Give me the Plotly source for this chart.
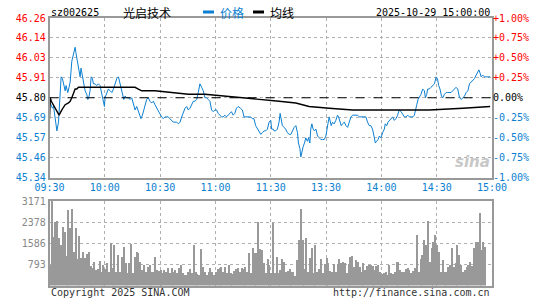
import plotly.graph_objects as go

# ---------------- data ----------------
PRE_CLOSE = 45.80
CODE = "sz002625"
NAME = "光启技术"
STAMP = "2025-10-29 15:00:00"

TIME_TICKS = ["09:30", "10:00", "10:30", "11:00", "11:30", "13:30", "14:00", "14:30", "15:00"]
PRICE_TICKS = ["45.34", "45.46", "45.57", "45.69", "45.80", "45.91", "46.03", "46.14", "46.26"]
PCT_TICKS = ["-1.00%", "-0.75%", "-0.50%", "-0.25%", "0.00%", "+0.25%", "+0.50%", "+0.75%", "+1.00%"]
VOL_TICKS = ["793", "1586", "2378", "3171"]

# trading minutes since 09:30 (lunch break removed)
PRICE_TIME = [
    0, 0.9, 1.6, 2.2, 3.1, 4.0, 4.9, 5.8, 6.3, 7.0, 7.6, 8.5, 9.0, 9.9, 10.6, 11.2, 12.1, 13.0, 13.9, 14.3,
    14.8, 15.3, 16.1, 16.6, 17.1, 17.9, 18.4, 19.3, 20.2, 20.8, 21.5, 22.0, 22.6, 23.3, 23.8, 24.7, 25.6, 26.5, 27.4, 28.3,
    29.2, 29.8, 30.1, 31.0, 31.9, 32.9, 33.8, 34.7, 35.6, 36.5, 37.4, 37.9, 38.8, 39.5, 40.3, 41.0, 41.9, 42.8, 43.7, 44.6,
    45.5, 46.4, 47.3, 48.2, 49.1, 49.6, 50.4, 51.1, 51.8, 52.7, 53.6, 54.5, 55.4, 56.3, 57.2, 58.1, 59.0, 59.9, 60.8, 61.7,
    62.6, 63.5, 64.4, 65.3, 66.2, 67.1, 68.1, 69.0, 69.9, 70.8, 71.7, 72.6, 73.5, 74.4, 75.3, 76.2, 77.1, 78.0, 78.9, 79.8,
    80.7, 81.6, 82.5, 83.4, 84.3, 85.2, 86.1, 87.0, 87.9, 88.8, 89.7, 90.6, 91.5, 92.4, 93.3, 94.2, 95.1, 96.0, 96.9, 97.8,
    98.7, 99.6, 100.5, 101.4, 102.3, 103.5, 104.6, 105.5, 106.4, 107.3, 108.2, 109.1, 110.0, 110.9, 111.8, 112.8, 113.7, 114.6, 115.5, 116.4,
    117.3, 118.2, 119.1, 120.0, 120.5, 121.3, 121.8, 122.7, 123.6, 124.5, 125.1, 125.8, 126.3, 127.2, 128.1, 129.0, 130.0, 130.9, 131.8, 132.7,
    133.6, 134.5, 135.0, 135.8, 136.3, 136.8, 137.6, 138.3, 139.0, 139.9, 140.5, 141.2, 141.7, 142.3, 143.0, 143.7, 144.5, 145.4, 146.3, 147.2,
    148.1, 149.0, 149.9, 150.4, 151.0, 151.7, 152.2, 152.8, 153.5, 154.4, 155.3, 156.2, 156.8, 157.5, 158.2, 158.9, 159.9, 160.8, 161.7, 162.6,
    163.5, 164.4, 165.3, 166.2, 167.1, 168.0, 168.9, 169.8, 170.7, 171.6, 172.5, 173.4, 174.3, 175.2, 176.2, 176.7, 177.4, 178.2, 178.9, 179.8,
    180.7, 181.6, 182.1, 182.9, 183.6, 184.3, 185.2, 186.1, 187.0, 187.9, 188.8, 189.7, 190.7, 191.6, 192.5, 193.4, 194.3, 195.2, 196.1, 197.0,
    197.9, 198.4, 199.2, 199.9, 200.6, 201.5, 202.4, 203.3, 203.9, 204.6, 205.1, 206.0, 206.9, 207.9, 208.8, 209.7, 210.4, 211.1, 211.8, 212.6,
    213.3, 214.2, 215.1, 216.0, 216.9, 217.8, 218.7, 219.6, 220.5, 221.4, 222.4, 223.3, 224.2, 225.1, 226.0, 226.9, 227.8, 228.7, 229.6, 230.5,
    231.4, 232.3, 232.9, 233.6, 234.1, 235.0, 235.9, 236.8, 238.3, 239.0,
]
PRICE = [
    45.78, 45.76, 45.74, 45.75, 45.69, 45.61, 45.66, 45.81, 45.92, 45.91, 45.88, 45.84, 45.87, 45.83, 45.86, 45.89, 46.01, 46.06, 46.09, 46.06,
    46.03, 46.00, 45.94, 45.92, 45.97, 45.92, 45.91, 45.84, 45.82, 45.79, 45.81, 45.84, 45.92, 45.91, 45.88, 45.88, 45.87, 45.88, 45.87, 45.83,
    45.79, 45.75, 45.80, 45.83, 45.85, 45.84, 45.83, 45.85, 45.88, 45.91, 45.92, 45.90, 45.86, 45.83, 45.79, 45.81, 45.80, 45.80, 45.79, 45.80,
    45.77, 45.73, 45.75, 45.72, 45.69, 45.68, 45.70, 45.73, 45.76, 45.79, 45.80, 45.78, 45.77, 45.78, 45.76, 45.74, 45.72, 45.70, 45.69, 45.68,
    45.69, 45.69, 45.69, 45.68, 45.67, 45.66, 45.66, 45.66, 45.65, 45.66, 45.69, 45.72, 45.74, 45.75, 45.73, 45.74, 45.76, 45.78, 45.78, 45.79,
    45.83, 45.88, 45.86, 45.84, 45.80, 45.80, 45.79, 45.78, 45.73, 45.72, 45.73, 45.73, 45.71, 45.70, 45.69, 45.69, 45.70, 45.69, 45.70, 45.71,
    45.72, 45.70, 45.71, 45.74, 45.75, 45.74, 45.73, 45.69, 45.69, 45.69, 45.69, 45.69, 45.68, 45.68, 45.64, 45.62, 45.60, 45.59, 45.60, 45.61,
    45.61, 45.62, 45.66, 45.67, 45.62, 45.62, 45.61, 45.61, 45.62, 45.66, 45.71, 45.66, 45.64, 45.63, 45.62, 45.60, 45.59, 45.59, 45.61, 45.63,
    45.64, 45.60, 45.54, 45.51, 45.46, 45.49, 45.52, 45.54, 45.57, 45.55, 45.57, 45.54, 45.62, 45.65, 45.62, 45.61, 45.62, 45.58, 45.57, 45.56,
    45.56, 45.56, 45.58, 45.62, 45.65, 45.69, 45.67, 45.64, 45.66, 45.65, 45.67, 45.70, 45.69, 45.66, 45.64, 45.65, 45.66, 45.64, 45.63, 45.66,
    45.69, 45.70, 45.70, 45.70, 45.70, 45.69, 45.69, 45.69, 45.69, 45.69, 45.66, 45.64, 45.64, 45.62, 45.57, 45.54, 45.55, 45.56, 45.58, 45.57,
    45.60, 45.62, 45.65, 45.64, 45.66, 45.67, 45.68, 45.69, 45.67, 45.68, 45.70, 45.73, 45.72, 45.70, 45.69, 45.69, 45.70, 45.69, 45.69, 45.69,
    45.70, 45.73, 45.76, 45.79, 45.80, 45.82, 45.85, 45.84, 45.80, 45.82, 45.85, 45.85, 45.86, 45.87, 45.88, 45.92, 45.91, 45.87, 45.85, 45.81,
    45.80, 45.82, 45.83, 45.83, 45.83, 45.83, 45.84, 45.85, 45.86, 45.85, 45.80, 45.79, 45.80, 45.81, 45.83, 45.84, 45.88, 45.89, 45.90, 45.91,
    45.93, 45.95, 45.96, 45.94, 45.92, 45.93, 45.92, 45.92, 45.92, 45.92,
]

AVG_TIME = [0, 0.4, 1.0, 3.0, 5.2, 6.7, 8.5, 10.3, 11.2, 12.1, 13.0, 13.9, 14.8, 15.7, 30.0, 46.4, 48.2, 50.0, 57.2, 66.2,
            75.3, 84.3, 95.1, 106.4, 115.5, 124.5, 133.6, 140.8, 151.7, 164.4, 178.9, 198.8, 206.0, 224.2, 238.3, 239.0]
AVG = [45.68, 45.80, 45.78, 45.74, 45.70, 45.73, 45.76, 45.77, 45.78, 45.80, 45.83, 45.85, 45.85, 45.86, 45.86, 45.86, 45.85, 45.84, 45.84, 45.83,
       45.82, 45.82, 45.81, 45.80, 45.79, 45.78, 45.77, 45.75, 45.74, 45.73, 45.73, 45.73, 45.73, 45.74, 45.75, 45.75]

VOLUME = [
    780, 3171, 1830, 2390, 2420, 1790, 1520, 2200, 2020, 1120,
    2830, 2170, 2870, 1270, 2140, 1000, 1870, 1040, 1270, 1040,
    1170, 1240, 740, 670, 890, 580, 620, 920, 520, 770,
    620, 830, 520, 1580, 670, 1520, 520, 1140, 520, 1080,
    1460, 830, 460, 830, 1540, 460, 1080, 1270, 1210, 890,
    580, 770, 520, 710, 770, 490, 520, 1080, 580, 540,
    580, 460, 580, 490, 640, 460, 670, 520, 580, 460,
    670, 770, 460, 390, 390, 490, 620, 460, 1520, 490,
    420, 390, 1370, 710, 520, 390, 490, 640, 520, 390,
    520, 620, 640, 710, 490, 710, 460, 770, 460, 440,
    540, 620, 640, 520, 640, 620, 710, 520, 1210, 460,
    1390, 1210, 1210, 2390, 1370, 1330, 830, 460, 990, 770,
    460, 2330, 460, 1080, 460, 580, 990, 890, 490, 540,
    620, 520, 520, 350, 960, 1710, 2870, 1710, 620, 1790,
    490, 1040, 1420, 460, 1520, 520, 620, 990, 460, 790,
    1020, 830, 540, 490, 790, 520, 790, 990, 830, 890,
    830, 460, 790, 1080, 1110, 710, 960, 890, 710, 520,
    830, 580, 740, 770, 770, 740, 580, 740, 770, 490,
    420, 460, 520, 390, 770, 460, 420, 490, 890, 890,
    580, 520, 520, 620, 670, 580, 460, 540, 670, 1890,
    490, 990, 1140, 1710, 1520, 2420, 890, 1390, 1640, 1890,
    1520, 1270, 520, 960, 520, 520, 710, 770, 1420, 710,
    830, 1520, 1140, 770, 490, 580, 710, 770, 870, 740,
    1390, 1640, 1620, 2710, 1330, 1620, 1460,
]

# ---------------- styles ----------------
RED = "#ff0000"
BLUE = "#0b7fd0"
BLACK = "#000000"
GRAY = "#999999"
GRID = "#b0b0b0"
MONO = "DejaVu Sans Mono"
W, H = 545, 300

def px_x(x):
    return x / W

def px_y(y):
    return 1 - y / H

def tick_color(i, mid):
    if i > mid:
        return RED
    if i < mid:
        return BLUE
    return BLACK

mid = len(PRICE_TICKS) // 2
price_vals = [PRE_CLOSE * (1 + (i - mid) * 0.0025) for i in range(len(PRICE_TICKS))]
pct_vals = [(i - mid) * 0.25 for i in range(len(PCT_TICKS))]
price_text = [f'<span style="color:{tick_color(i, mid)}">{t}</span>' for i, t in enumerate(PRICE_TICKS)]
pct_text = [f'<span style="color:{tick_color(i, mid)}">{t}</span>' for i, t in enumerate(PCT_TICKS)]
time_vals = [i * 30 for i in range(len(TIME_TICKS))]
vol_max = max(VOLUME)
vol_vals = [vol_max * (i + 1) / 4 for i in range(4)]

XDOM = [px_x(49.5), px_x(492)]
MAIN_DOM = [px_y(177.5), px_y(18)]
VOL_DOM = [px_y(285.5), px_y(201)]

fig = go.Figure()
fig.add_trace(go.Scatter(x=PRICE_TIME, y=PRICE, mode="lines", line=dict(color=BLUE, width=1),
                         xaxis="x", yaxis="y", hoverinfo="skip"))
fig.add_trace(go.Scatter(x=AVG_TIME, y=AVG, mode="lines", line=dict(color=BLACK, width=1.4),
                         xaxis="x", yaxis="y", hoverinfo="skip"))
fig.add_trace(go.Scatter(x=[0, 240], y=[0, 0], mode="lines", line=dict(width=0), opacity=0,
                         xaxis="x", yaxis="y2", hoverinfo="skip"))
fig.add_trace(go.Bar(x=list(range(len(VOLUME))), y=VOLUME, width=0.6, marker=dict(color=GRAY, line=dict(width=0)),
                     xaxis="x2", yaxis="y3", hoverinfo="skip"))

axis_common = dict(showgrid=True, gridcolor=GRID, griddash="dot", gridwidth=1, zeroline=False,
                   showline=True, linecolor=GRAY, linewidth=1.5, mirror=True, ticks="", automargin=False)

fig.update_layout(
    width=W, height=H,
    margin=dict(l=0, r=0, t=0, b=0, autoexpand=False),
    paper_bgcolor="white", plot_bgcolor="white",
    showlegend=False,
    bargap=0,
    font=dict(family=MONO, size=10, color=BLACK),
    xaxis=dict(domain=XDOM, range=[0, 240], tickvals=time_vals, ticktext=TIME_TICKS,
               tickfont=dict(color=BLUE, size=10, family=MONO), anchor="y", **axis_common),
    yaxis=dict(domain=MAIN_DOM, range=[price_vals[0], price_vals[-1]], tickvals=price_vals, ticktext=price_text,
               tickfont=dict(size=10, family=MONO), anchor="x", **axis_common),
    yaxis2=dict(range=[-1, 1], overlaying="y", side="right", anchor="x", tickvals=pct_vals, ticktext=pct_text,
                tickfont=dict(size=10, family=MONO), showgrid=False, zeroline=False, ticks="", automargin=False),
    xaxis2=dict(domain=XDOM, range=[0, 240], tickvals=time_vals, showticklabels=False, anchor="y3", **axis_common),
    yaxis3=dict(domain=VOL_DOM, range=[0, vol_max], tickvals=vol_vals, ticktext=VOL_TICKS,
                tickfont=dict(color="#888888", size=10, family=MONO), anchor="x2", **axis_common),
)

# pre-close reference line
fig.add_shape(type="line", xref="x", yref="y", x0=0, x1=240, y0=PRE_CLOSE, y1=PRE_CLOSE,
              line=dict(color=BLACK, width=1, dash="dash"), layer="above")

# header
ann = []
ann.append(dict(text=CODE, x=px_x(49), y=px_y(12), xanchor="left", yanchor="middle",
                font=dict(family=MONO, size=10, color=BLACK)))
ann.append(dict(text=NAME, x=px_x(121), y=px_y(12), xanchor="left", yanchor="middle",
                font=dict(family="Noto Sans CJK SC", size=12, color=BLACK)))
ann.append(dict(text="价格", x=px_x(218), y=px_y(12), xanchor="left", yanchor="middle",
                font=dict(family="Noto Sans CJK SC", size=12, color=BLUE)))
ann.append(dict(text="均线", x=px_x(268), y=px_y(12), xanchor="left", yanchor="middle",
                font=dict(family="Noto Sans CJK SC", size=12, color=BLACK)))
ann.append(dict(text=STAMP, x=px_x(492), y=px_y(12), xanchor="right", yanchor="middle",
                font=dict(family=MONO, size=10, color=BLACK)))
# footer
ann.append(dict(text="Copyright 2025 SINA.COM", x=px_x(49), y=px_y(292), xanchor="left", yanchor="middle",
                font=dict(family=MONO, size=10, color="#333333")))
ann.append(dict(text="http://finance.sina.com.cn", x=px_x(492), y=px_y(292), xanchor="right", yanchor="middle",
                font=dict(family=MONO, size=10, color="#333333")))
# watermark
ann.append(dict(text="<b><i>sina</i></b>", x=px_x(472), y=px_y(162), xanchor="center", yanchor="middle",
                font=dict(family="DejaVu Sans", size=15, color="#c8c8c8")))
for a in ann:
    a.update(xref="paper", yref="paper", showarrow=False)
fig.update_layout(annotations=ann)

# legend dashes
fig.add_shape(type="rect", xref="paper", yref="paper", x0=px_x(203), x1=px_x(214), y0=px_y(13.5), y1=px_y(10.5),
              fillcolor=BLUE, line=dict(width=0))
fig.add_shape(type="rect", xref="paper", yref="paper", x0=px_x(253), x1=px_x(264), y0=px_y(13.5), y1=px_y(10.5),
              fillcolor=BLACK, line=dict(width=0))

fig.write_html("out.html")
